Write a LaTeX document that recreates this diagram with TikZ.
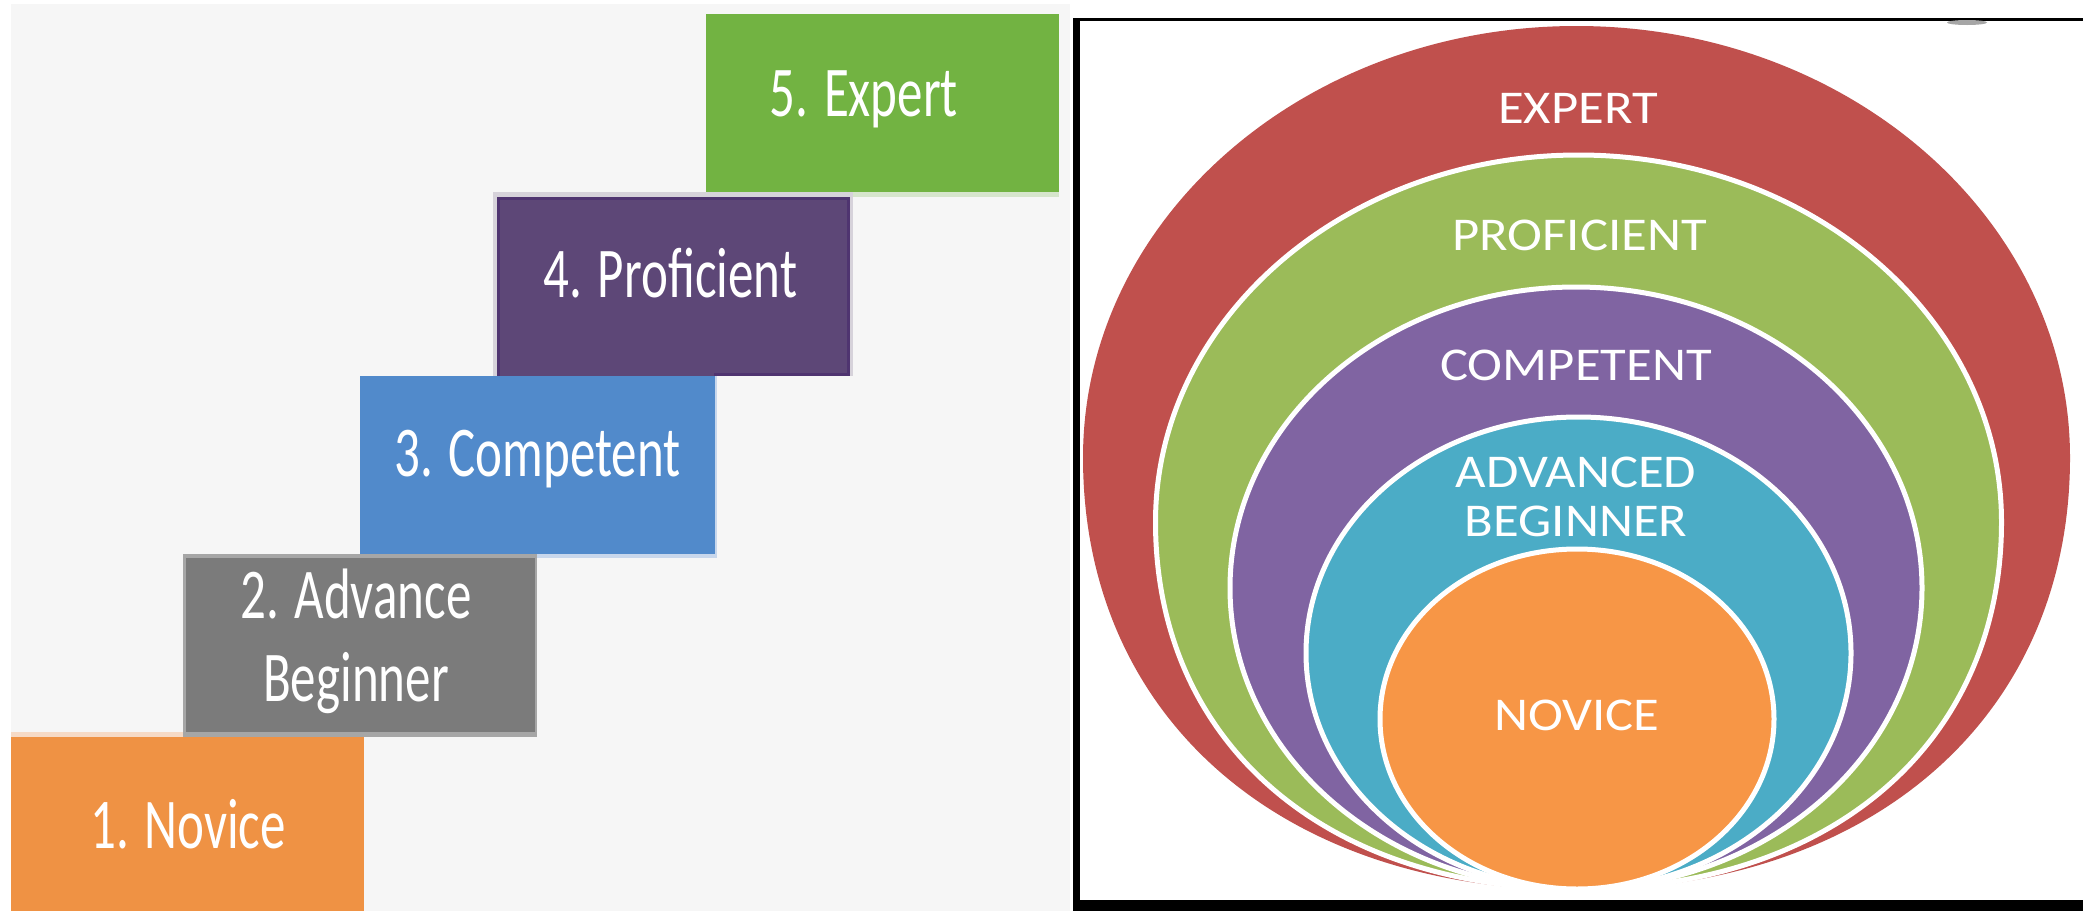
\documentclass[tikz,border=0pt]{standalone}
\usepackage{fontspec}
\usepackage{graphicx}
\setmainfont{Carlito}
\definecolor{bgpanel}{HTML}{F6F6F6}
\definecolor{stepgreen}{HTML}{72B342}
\definecolor{stepgreenedge}{HTML}{D6E5CC}
\definecolor{steppurple}{HTML}{5D4777}
\definecolor{steppurpleedge}{HTML}{4F3470}
\definecolor{steppurplerim}{HTML}{D6D2DA}
\definecolor{stepblue}{HTML}{518ACB}
\definecolor{stepbluerim}{HTML}{C8D7EC}
\definecolor{stepgray}{HTML}{7B7B7B}
\definecolor{stepgrayrim}{HTML}{A6A6A6}
\definecolor{steporange}{HTML}{EF9244}
\definecolor{steporangerim}{HTML}{F6DAC6}
\definecolor{ringred}{HTML}{C0504D}
\definecolor{ringgreen}{HTML}{9BBB59}
\definecolor{ringpurple}{HTML}{8064A2}
\definecolor{ringteal}{HTML}{4BACC6}
\definecolor{ringorange}{HTML}{F79646}
\tikzset{
  steplabel/.style={anchor=base, text=white, inner sep=0pt, font=\fontsize{51}{58.6}\selectfont},
  ringlabel/.style={anchor=base, text=white, inner sep=0pt, font=\fontsize{47}{49}\selectfont},
  ring/.style={draw=white, line width=5pt},
}
\begin{document}
\begin{tikzpicture}[x=1pt,y=-1pt]
\useasboundingbox (0,0) rectangle (2083,911);
\fill[white] (0,0) rectangle (2083,911);
% ---------- left panel ----------
\fill[bgpanel] (10.5,4) rectangle (1070,911);
% 5. Expert
\fill[stepgreen] (706,14) rectangle (1059,192);
\fill[stepgreenedge] (706,192) rectangle (1059,197);
% 4. Proficient
\fill[steppurplerim] (492.5,191.7) rectangle (853,376);
\fill[steppurple] (496.7,197.3) rectangle (850.3,376);
\draw[steppurpleedge, line width=3pt] (498.2,376) -- (498.2,198.8) -- (848.8,198.8) -- (848.8,374.5) -- (714,374.5);
% 3. Competent
\fill[stepbluerim] (360,376) rectangle (717,558);
\fill[stepblue] (360,376) rectangle (714.7,554);
% 2. Advance Beginner
\fill[stepgrayrim] (183,554) rectangle (537,737);
\fill[stepgray] (185.5,558) rectangle (534.5,732);
% 1. Novice
\fill[steporangerim] (10.5,732) rectangle (183,737);
\fill[steporange] (10.5,737) rectangle (363.6,911);
% step labels
\node[steplabel] (l5) at (864,116) {\scalebox{1}[1.4]{5. Expert}};
\node[steplabel] (l4) at (670.5,297.5) {\scalebox{1}[1.4]{4. Proficient}};
\node[steplabel] (l3) at (537.5,476) {\scalebox{1}[1.4]{3. Competent}};
\node[steplabel] (l2) at (356,701) {\scalebox{1}[1.4]{\begin{tabular}[b]{@{}c@{}}2. Advance\\Beginner\end{tabular}}};
\node[steplabel] (l1) at (188,848) {\scalebox{1}[1.4]{1. Novice}};
% ---------- right panel ----------
\fill[black] (1073,18) rectangle (2083,21);
\fill[black] (1073,18) rectangle (1080,911);
\fill[black] (1073,900) rectangle (2083,911);
\fill[gray!70] (1967,22.5) ellipse [x radius=20, y radius=2.5];
% nested rings
\fill[ringred] (1083,457.5) .. controls (1083,219.2) and (1303.9,26) .. (1576.5,26)
  .. controls (1849.1,26) and (2070,219.2) .. (2070,457.5)
  .. controls (2070,716.4) and (1872.6,890) .. (1576.5,890)
  .. controls (1280.4,890) and (1083,716.4) .. (1083,457.5) -- cycle;
\filldraw[ring, fill=ringgreen] (1155.5,522) .. controls (1155.5,319.3) and (1344.9,155) .. (1578.5,155)
  .. controls (1812.1,155) and (2001.5,319.3) .. (2001.5,522)
  .. controls (2001.5,742.2) and (1832.3,889) .. (1578.5,889)
  .. controls (1324.7,889) and (1155.5,742.2) .. (1155.5,522) -- cycle;
\filldraw[ring, fill=ringpurple] (1576,588) ellipse [x radius=346, y radius=301];
\filldraw[ring, fill=ringteal] (1578.5,653) ellipse [x radius=272.5, y radius=236];
\filldraw[ring, fill=ringorange] (1577,719) ellipse [x radius=197, y radius=170];
% ring labels
\node[ringlabel] (r5) at (1578,123.3) {\scalebox{1.12}[1]{EXPERT}};
\node[ringlabel] (r4) at (1579.5,250.7) {\scalebox{1.12}[1]{PROFICIENT}};
\node[ringlabel] (r3) at (1576,380.6) {\scalebox{1.12}[1]{COMPETENT}};
\node[ringlabel] (r2) at (1576,536) {\scalebox{1.12}[1]{\begin{tabular}[b]{@{}c@{}}ADVANCED\\BEGINNER\end{tabular}}};
\node[ringlabel] (r1) at (1577,730) {\scalebox{1.12}[1]{NOVICE}};
\end{tikzpicture}
\end{document}
